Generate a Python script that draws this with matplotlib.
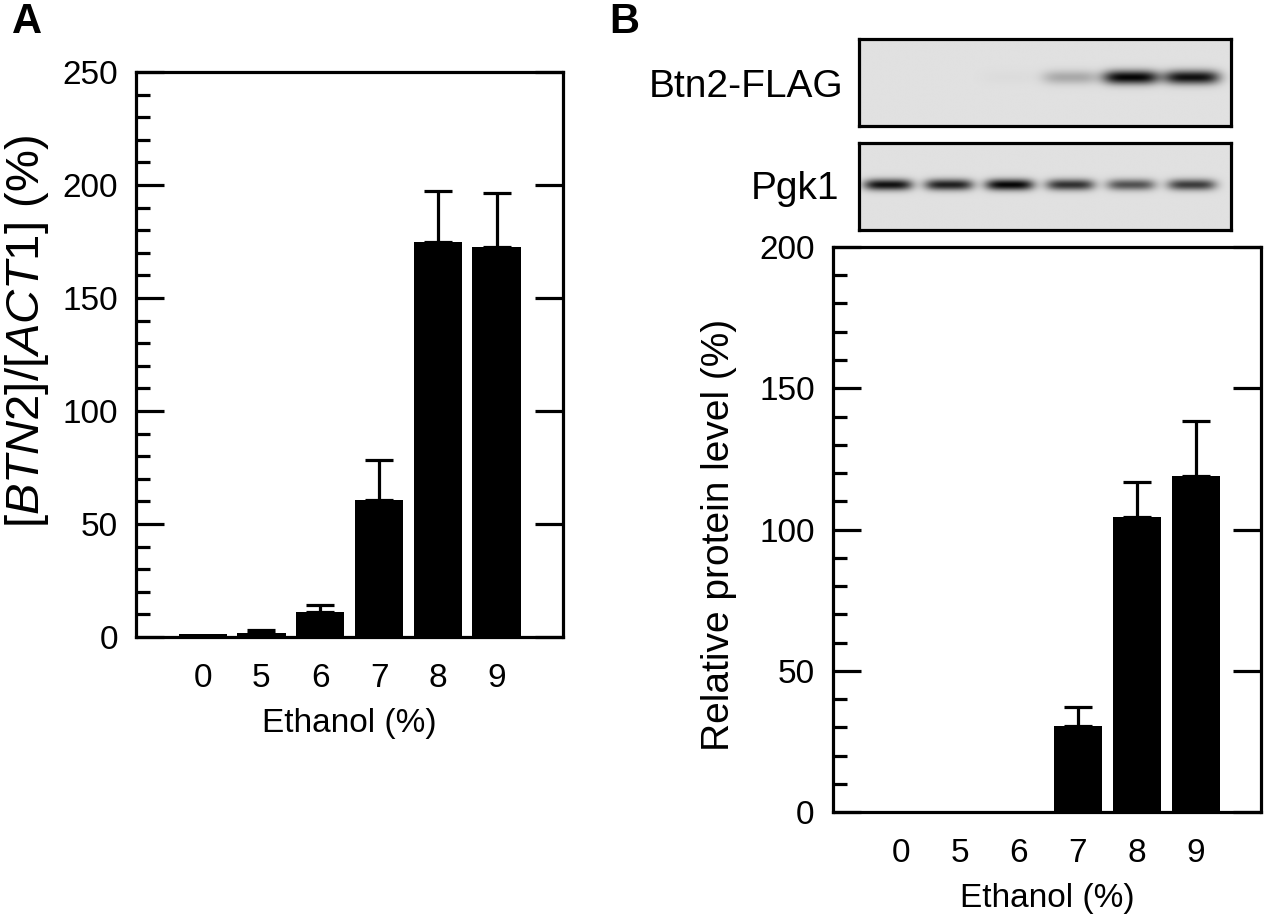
import numpy as np
import matplotlib
matplotlib.use("Agg")
import matplotlib.pyplot as plt
from matplotlib.ticker import MultipleLocator

plt.rcParams['font.family'] = ['Liberation Sans', 'DejaVu Sans']
plt.rcParams['mathtext.fontset'] = 'custom'
plt.rcParams['mathtext.rm'] = 'Liberation Sans'
plt.rcParams['mathtext.it'] = 'Liberation Sans:italic'

# ---- data ----
categories = ['0', '5', '6', '7', '8', '9']
mrna_values = [1.5, 1.9, 10.9, 60.5, 174.9, 172.7]
mrna_err = [0, 1.3, 3.3, 17.8, 22.6, 23.9]
protein_values = [0, 0, 0, 30.4, 104.6, 119.0]
protein_err = [0, 0, 0, 6.7, 12.3, 19.3]
btn2_band = [0.0, 0.0, 0.02, 0.25, 1.0, 0.95]
pgk1_band = [0.95, 0.88, 1.0, 0.8, 0.65, 0.75]

W, H = 1267, 923
fig = plt.figure(figsize=(W / 100, H / 100), dpi=100)

def frac(l, r, t, b):
    return [l / W, (H - b) / H, (r - l) / W, (b - t) / H]

LW = 2.3
TICKFS = 24
def style_axes(ax, ymax):
    for s in ax.spines.values():
        s.set_linewidth(LW)
    ax.set_ylim(0, ymax)
    ax.yaxis.set_major_locator(MultipleLocator(50))
    ax.yaxis.set_minor_locator(MultipleLocator(10))
    ax.tick_params(axis='y', which='major', direction='in', length=20, width=LW,
                   right=True, labelsize=TICKFS, pad=13)
    ax.tick_params(axis='y', which='minor', direction='in', length=10, width=LW,
                   right=False)
    ax.tick_params(axis='x', length=0, labelsize=TICKFS, pad=19)
    ax.set_xticks(np.arange(len(categories)))
    ax.set_xticklabels(categories)

def draw_bars(ax, vals, errs):
    x = np.arange(len(vals))
    ax.bar(x, vals, width=0.82, color='black', zorder=3)
    idx = [i for i, e in enumerate(errs) if e > 0]
    ax.errorbar(x[idx], np.array(vals)[idx],
                yerr=[np.zeros(len(idx)), np.array(errs)[idx]],
                fmt='none', ecolor='black', elinewidth=LW, capsize=10,
                capthick=LW, zorder=2)

# ---- Panel A ----
axA = fig.add_axes(frac(136, 563, 72, 637))
draw_bars(axA, mrna_values, mrna_err)
style_axes(axA, 250)
axA.set_xlim(-1.134, 6.13)
axA.set_xlabel('Ethanol (%)', fontsize=24, labelpad=10)
axA.set_ylabel(r'[$\mathit{BTN2}$]/[$\mathit{ACT1}$] (%)', fontsize=34)
axA.yaxis.set_label_coords(-0.200, 0.54)

# ---- Panel B ----
axB = fig.add_axes(frac(832.7, 1261, 247, 812))
draw_bars(axB, protein_values, protein_err)
style_axes(axB, 200)
axB.set_xlim(-1.153, 6.107)
axB.set_xlabel('Ethanol (%)', fontsize=24, labelpad=10)
axB.set_ylabel('Relative protein level (%)', fontsize=28)
axB.yaxis.set_label_coords(-0.223, 0.49)

# ---- Blots ----
def blot(ax, bands, yc, sy, sx):
    x0, x1 = -0.477, 5.64
    xs = np.linspace(x0, x1, 500)
    ys = np.linspace(0, 1, 160)
    X, Y = np.meshgrid(xs, ys)
    dark = np.zeros_like(X)
    for i, inten in enumerate(bands):
        dark += inten * np.exp(-((X - i) / sx) ** 4) * np.exp(-((Y - yc) / sy) ** 2)
    dark = np.clip(dark, 0, 1)
    bg = 0.88
    img = bg * (1 - dark) + 0.02 * dark
    ax.imshow(img, cmap='gray', vmin=0, vmax=1, origin='lower', aspect='auto',
              extent=[x0, x1, 0, 1], interpolation='bilinear')
    ax.set_xlim(x0, x1)
    ax.set_ylim(0, 1)
    ax.set_xticks([])
    ax.set_yticks([])
    for s in ax.spines.values():
        s.set_linewidth(LW)

ax_top = fig.add_axes(frac(859, 1231, 39, 126))
blot(ax_top, btn2_band, 0.56, 0.08, 0.46)
ax_bot = fig.add_axes(frac(859, 1231, 143, 230))
blot(ax_bot, pgk1_band, 0.52, 0.065, 0.40)

fig.text(843 / W, (H - 97) / H, 'Btn2-FLAG', fontsize=28, ha='right', va='baseline')
fig.text(839 / W, (H - 199) / H, 'Pgk1', fontsize=28, ha='right', va='baseline')

# panel letters
fig.text(12 / W, (H - 33) / H, 'A', fontsize=30, fontweight='bold', ha='left', va='baseline')
fig.text(609 / W, (H - 33) / H, 'B', fontsize=30, fontweight='bold', ha='left', va='baseline')

fig.savefig('out.png', dpi=100)
